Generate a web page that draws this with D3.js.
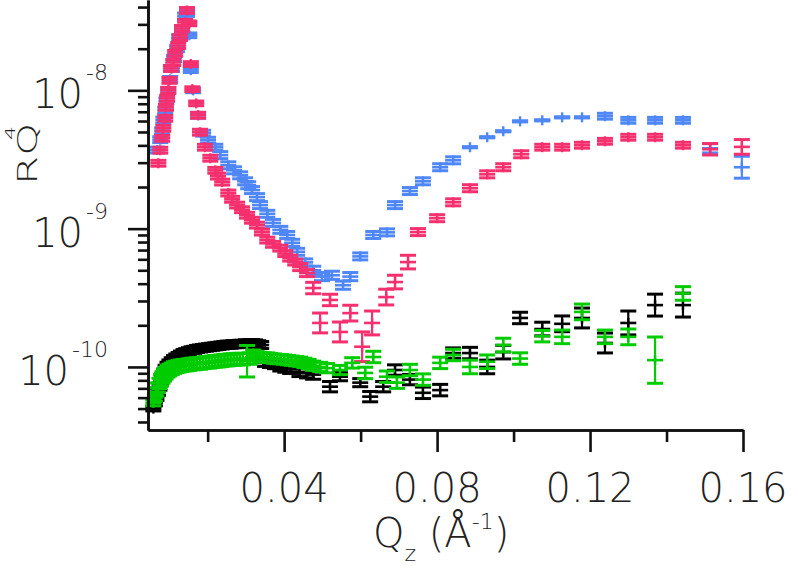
<!DOCTYPE html>
<html><head><meta charset="utf-8">
<script src="https://cdn.jsdelivr.net/npm/d3@7/dist/d3.min.js"></script>
<style>body{margin:0;background:#fff}text{font-family:"DejaVu Sans",sans-serif;font-weight:200;fill:#222}</style>
</head><body>
<svg id="c" width="792" height="566"></svg>
<script>
// ---------------- data: [Qz (1/Å), R·Q^4, relative error] ----------------
const blueData = [
  [0.0068,3.7e-9,0.05],[0.0076,4.4e-9,0.05],[0.0081,5.1e-9,0.05],[0.0084,6.1e-9,0.05],[0.0089,7.2e-9,0.05],[0.0092,8.4e-9,0.05],
  [0.0097,1.0e-8,0.05],[0.0102,1.2e-8,0.05],[0.0107,1.44e-8,0.05],[0.0112,1.7e-8,0.05],[0.0120,2.0e-8,0.05],[0.0125,2.4e-8,0.05],
  [0.0133,2.8e-8,0.05],[0.0141,3.45e-8,0.05],[0.0146,3.6e-8,0.05],[0.0152,2.5e-8,0.04],[0.0156,1.4e-8,0.04],[0.0162,1.0e-8,0.04],
  [0.0175,6.6e-9,0.05],[0.0188,4.9e-9,0.05],[0.0201,4.36e-9,0.05],[0.0220,3.88e-9,0.05],[0.0233,3.4e-9,0.06],[0.0254,2.87e-9,0.06],
  [0.0269,2.64e-9,0.06],[0.0285,2.43e-9,0.06],[0.0298,2.2e-9,0.06],[0.0306,2.06e-9,0.06],[0.0316,1.9e-9,0.06],[0.0329,1.69e-9,0.06],
  [0.0337,1.48e-9,0.06],[0.0356,1.28e-9,0.06],[0.0371,1.10e-9,0.06],[0.0390,9.8e-10,0.06],[0.0408,9.0e-10,0.06],[0.0421,7.9e-10,0.06],
  [0.0434,6.8e-10,0.06],[0.0455,5.7e-10,0.06],[0.0476,5.0e-10,0.07],[0.0499,4.5e-10,0.07],[0.0525,4.6e-10,0.07],[0.0554,3.9e-10,0.07],
  [0.0573,4.5e-10,0.07],[0.0599,6.3e-10,0.06],[0.0633,9.0e-10,0.06],[0.0669,9.4e-10,0.06],[0.0690,1.48e-9,0.06],[0.0729,1.87e-9,0.06],
  [0.0763,2.2e-9,0.06],[0.0808,2.78e-9,0.06],[0.0842,3.12e-9,0.06],[0.0886,3.88e-9,0.01],[0.0931,4.58e-9,0.01],[0.0973,5.06e-9,0.01],
  [0.1017,5.97e-9,0.01],[0.1075,6.07e-9,0.01],[0.1127,6.38e-9,0.01],[0.1179,6.38e-9,0.01],[0.1239,6.5e-9,0.05],[0.1300,6.07e-9,0.05],
  [0.1370,6.07e-9,0.05],[0.1443,6.07e-9,0.05],[0.1514,3.81e-9,0.08],[0.1597,2.78e-9,0.20]];

const pinkData = [
  [0.0071,2.97e-9,0.05],[0.0076,3.69e-9,0.05],[0.0081,4.5e-9,0.05],[0.0084,5.32e-9,0.05],[0.0089,6.28e-9,0.05],[0.0091,7.53e-9,0.05],
  [0.0094,8.75e-9,0.05],[0.0097,1.0e-8,0.05],[0.0100,1.18e-8,0.05],[0.0104,1.44e-8,0.05],[0.0110,1.59e-8,0.05],[0.0115,1.85e-8,0.05],
  [0.0123,2.11e-8,0.05],[0.0128,2.41e-8,0.05],[0.0133,2.8e-8,0.05],[0.0141,3.1e-8,0.05],[0.0146,3.78e-8,0.05],[0.0152,3.05e-8,0.04],
  [0.0156,1.55e-8,0.04],[0.0160,1.02e-8,0.04],[0.0170,8.05e-9,0.04],[0.0175,6.6e-9,0.05],[0.0180,4.98e-9,0.05],[0.0193,3.88e-9,0.05],
  [0.0207,3.23e-9,0.05],[0.0220,2.64e-9,0.05],[0.0227,2.4e-9,0.05],[0.0238,2.17e-9,0.05],[0.0254,1.81e-9,0.05],[0.0264,1.63e-9,0.05],
  [0.0277,1.48e-9,0.05],[0.0290,1.37e-9,0.05],[0.0303,1.25e-9,0.05],[0.0316,1.15e-9,0.05],[0.0329,1.06e-9,0.05],[0.0342,9.44e-10,0.05],
  [0.0356,8.26e-10,0.05],[0.0371,7.7e-10,0.05],[0.0390,7.23e-10,0.05],[0.0403,6.6e-10,0.05],[0.0416,6.12e-10,0.05],[0.0429,5.73e-10,0.05],
  [0.0442,5.27e-10,0.06],[0.0460,4.77e-10,0.06],[0.0476,3.72e-10,0.10],[0.0494,2.08e-10,0.18],[0.0520,3.05e-10,0.10],[0.0546,1.79e-10,0.18],
  [0.0573,2.45e-10,0.14],[0.0604,1.4e-10,0.28],[0.0630,2.08e-10,0.22],[0.0667,3.2e-10,0.14],[0.0690,4.11e-10,0.12],[0.0724,5.73e-10,0.12],
  [0.0750,9.44e-10,0.06],[0.0800,1.19e-9,0.06],[0.0842,1.55e-9,0.06],[0.0886,1.96e-9,0.06],[0.0931,2.47e-9,0.06],[0.0973,2.78e-9,0.06],
  [0.1020,3.45e-9,0.06],[0.1075,3.88e-9,0.05],[0.1127,3.88e-9,0.05],[0.1179,4.01e-9,0.05],[0.1239,4.28e-9,0.05],[0.1300,4.58e-9,0.05],
  [0.1370,4.58e-9,0.05],[0.1443,4.01e-9,0.05],[0.1514,3.75e-9,0.10],[0.1597,3.9e-9,0.13]];

const blackData = [
  [0.0058,5.0e-11,0.04],[0.0062,5.5e-11,0.05],[0.0066,6.0e-11,0.05],[0.0070,6.6e-11,0.06],[0.0074,7.2e-11,0.06],[0.0078,7.8e-11,0.06],
  [0.0082,8.5e-11,0.06],[0.0086,9.1e-11,0.06],[0.0090,9.7e-11,0.06],[0.0095,1.02e-10,0.06],[0.0100,1.06e-10,0.06],[0.0106,1.10e-10,0.06],
  [0.0112,1.14e-10,0.06],[0.0118,1.17e-10,0.06],[0.0124,1.20e-10,0.06],[0.0130,1.23e-10,0.06],[0.0137,1.26e-10,0.06],[0.0144,1.28e-10,0.06],
  [0.0151,1.30e-10,0.06],[0.0158,1.32e-10,0.06],[0.0165,1.33e-10,0.06],[0.0172,1.35e-10,0.06],[0.0180,1.36e-10,0.06],[0.0188,1.37e-10,0.06],
  [0.0196,1.38e-10,0.06],[0.0204,1.39e-10,0.06],[0.0212,1.40e-10,0.06],[0.0220,1.41e-10,0.06],[0.0228,1.42e-10,0.06],[0.0236,1.43e-10,0.06],
  [0.0244,1.44e-10,0.06],[0.0252,1.45e-10,0.06],[0.0260,1.45e-10,0.06],[0.0268,1.46e-10,0.06],[0.0276,1.46e-10,0.06],[0.0284,1.47e-10,0.06],
  [0.0292,1.47e-10,0.06],[0.0300,1.48e-10,0.06],[0.0308,1.48e-10,0.06],[0.0316,1.49e-10,0.06],[0.0324,1.48e-10,0.06],[0.0332,1.46e-10,0.06],
  [0.0340,1.44e-10,0.06],[0.0350,1.07e-10,0.06],[0.0363,1.05e-10,0.06],[0.0376,1.03e-10,0.06],[0.0390,1.0e-10,0.07],[0.0403,9.8e-11,0.07],
  [0.0416,9.6e-11,0.07],[0.0440,9.2e-11,0.08],[0.0460,9.0e-11,0.08],[0.0476,8.8e-11,0.08],[0.0520,7.2e-11,0.09],[0.0546,8.5e-11,0.07],
  [0.0599,7.7e-11,0.07],[0.0625,6.1e-11,0.09],[0.0659,7.2e-11,0.09],[0.0690,9.5e-11,0.09],[0.0729,8.1e-11,0.09],[0.0763,6.5e-11,0.10],
  [0.0808,6.8e-11,0.10],[0.0842,1.26e-10,0.09],[0.0886,1.26e-10,0.10],[0.0931,1.0e-10,0.12],[0.0973,1.28e-10,0.12],[0.1017,2.26e-10,0.10],
  [0.1075,1.88e-10,0.12],[0.1127,2.05e-10,0.14],[0.1179,2.26e-10,0.18],[0.1239,1.49e-10,0.18],[0.1300,2.08e-10,0.22],[0.1370,2.8e-10,0.20],
  [0.1443,2.8e-10,0.22]];

const greenData = [
  [0.0058,5.5e-11,0.05],[0.0062,6.0e-11,0.06],[0.0066,6.6e-11,0.07],[0.0070,7.1e-11,0.08],[0.0074,7.6e-11,0.09],[0.0078,8.0e-11,0.10],
  [0.0082,8.4e-11,0.10],[0.0086,8.7e-11,0.10],[0.0090,9.0e-11,0.10],[0.0095,9.3e-11,0.10],[0.0100,9.5e-11,0.10],[0.0106,9.7e-11,0.10],
  [0.0112,9.9e-11,0.10],[0.0118,1.0e-10,0.10],[0.0124,1.01e-10,0.10],[0.0130,1.02e-10,0.10],[0.0137,1.03e-10,0.10],[0.0144,1.03e-10,0.10],
  [0.0151,1.04e-10,0.10],[0.0158,1.05e-10,0.10],[0.0165,1.05e-10,0.10],[0.0172,1.06e-10,0.10],[0.0180,1.06e-10,0.10],[0.0188,1.07e-10,0.10],
  [0.0196,1.08e-10,0.10],[0.0204,1.08e-10,0.10],[0.0212,1.09e-10,0.10],[0.0220,1.10e-10,0.10],[0.0228,1.10e-10,0.10],[0.0236,1.11e-10,0.10],
  [0.0244,1.12e-10,0.10],[0.0252,1.12e-10,0.10],[0.0260,1.13e-10,0.10],[0.0268,1.13e-10,0.10],[0.0276,1.14e-10,0.10],[0.0284,1.14e-10,0.10],
  [0.0292,1.14e-10,0.10],[0.0303,1.10e-10,0.30],[0.0310,1.15e-10,0.10],[0.0319,1.25e-10,0.06],[0.0328,1.20e-10,0.08],[0.0337,1.18e-10,0.08],
  [0.0346,1.17e-10,0.08],[0.0355,1.17e-10,0.08],[0.0364,1.16e-10,0.08],[0.0373,1.15e-10,0.08],[0.0382,1.14e-10,0.08],[0.0391,1.14e-10,0.08],
  [0.0400,1.13e-10,0.08],[0.0410,1.12e-10,0.08],[0.0420,1.11e-10,0.08],[0.0431,1.10e-10,0.08],[0.0442,1.09e-10,0.08],[0.0453,1.07e-10,0.08],
  [0.0464,1.05e-10,0.08],[0.0476,1.02e-10,0.08],[0.0494,1.0e-10,0.08],[0.0512,9.8e-11,0.08],[0.0546,9.5e-11,0.08],[0.0578,1.07e-10,0.09],
  [0.0612,9.05e-11,0.10],[0.0633,1.18e-10,0.10],[0.0669,8.5e-11,0.10],[0.0695,7.7e-11,0.10],[0.0729,9.5e-11,0.10],[0.0763,8.1e-11,0.10],
  [0.0808,1.07e-10,0.10],[0.0842,1.22e-10,0.10],[0.0886,1.0e-10,0.12],[0.0931,1.09e-10,0.12],[0.0973,1.44e-10,0.12],[0.1017,1.15e-10,0.10],
  [0.1075,1.67e-10,0.10],[0.1127,1.65e-10,0.12],[0.1179,2.5e-10,0.14],[0.1239,1.65e-10,0.12],[0.1300,1.65e-10,0.14],[0.1370,1.12e-10,0.47],
  [0.1443,3.4e-10,0.12]];

const xTickMajor = [0.04, 0.08, 0.12, 0.16];
const xTickLabels = ["0.04", "0.08", "0.12", "0.16"];
const xTickMinor = [0.02, 0.06, 0.10, 0.14];
const yTickMajor = [1e-8, 1e-9, 1e-10];
const yTickExp = ["-8", "-9", "-10"];

// ---------------- chart ----------------
const svg = d3.select("#c");
const x = d3.scaleLinear().domain([0.0044, 0.16]).range([148, 743]);
const y = d3.scaleLog().domain([3.5e-11, 4.5e-8]).range([430, 0]);

const yMinor = [];
[-11, -10, -9, -8].forEach(e => { for (let m = 2; m <= 9; m++) { const v = m * Math.pow(10, e); if (v >= y.domain()[0] && v <= y.domain()[1]) yMinor.push(v); } });

function series(data, color) {
  const g = svg.append("g").attr("stroke", color).attr("stroke-width", 3).attr("fill", "none").attr("stroke-linecap", "butt");
  const p = g.selectAll("g").data(data).join("g");
  const hi = d => y(d[1] * (1 + d[2])), lo = d => y(d[1] / (1 + d[2]));
  p.append("line").attr("x1", d => x(d[0])).attr("x2", d => x(d[0]))
    .attr("y1", hi).attr("y2", lo).attr("stroke-width", 2.2);
  p.append("line").attr("x1", d => x(d[0]) - 8).attr("x2", d => x(d[0]) + 8).attr("y1", hi).attr("y2", hi);
  p.append("line").attr("x1", d => x(d[0]) - 8).attr("x2", d => x(d[0]) + 8).attr("y1", lo).attr("y2", lo);
  p.append("line").attr("x1", d => x(d[0]) - 8).attr("x2", d => x(d[0]) + 8)
    .attr("y1", d => y(d[1])).attr("y2", d => y(d[1])).attr("stroke-width", 2.6);
  p.append("line").attr("x1", d => x(d[0])).attr("x2", d => x(d[0]))
    .attr("y1", d => y(d[1]) - 5).attr("y2", d => y(d[1]) + 5).attr("stroke-width", 2.4);
}
series(blueData, "#4f87f7");
series(pinkData, "#f5306f");
series(blackData, "#000000");
series(greenData, "#00cc00");

// axes
function styleAxis(g) {
  g.selectAll("path,line").attr("stroke", "#111").attr("stroke-width", 2.6);
  g.selectAll("text").remove();
}
svg.append("g").attr("transform", "translate(148,0)")
  .call(d3.axisLeft(y).tickValues(yMinor).tickSize(10).tickSizeOuter(0)).call(styleAxis);
svg.append("g").attr("transform", "translate(148,0)")
  .call(d3.axisLeft(y).tickValues(yTickMajor).tickSize(20).tickSizeOuter(0)).call(styleAxis);
svg.append("g").attr("transform", "translate(0,430)")
  .call(d3.axisBottom(x).tickValues(xTickMinor).tickSize(12).tickSizeOuter(0)).call(styleAxis);
svg.append("g").attr("transform", "translate(0,430)")
  .call(d3.axisBottom(x).tickValues(xTickMajor).tickSize(22).tickSizeOuter(0)).call(styleAxis);

// tick labels
svg.append("g").selectAll("text").data(xTickMajor).join("text")
  .attr("x", d => x(d)).attr("y", 502).attr("text-anchor", "middle").attr("font-size", 40)
  .text((d, i) => xTickLabels[i]);

const yl = svg.append("g").selectAll("text").data(yTickMajor).join("text")
  .attr("x", 108).attr("y", d => y(d) + 18).attr("text-anchor", "end");
yl.append("tspan").attr("font-size", 40).text("10");
yl.append("tspan").attr("font-size", 22).attr("dx", 3).attr("dy", -28).text((d, i) => yTickExp[i]);

// axis titles
const xt = svg.append("text").attr("x", 373).attr("y", 547);
xt.append("tspan").attr("font-size", 40).text("Q");
xt.append("tspan").attr("font-size", 22).attr("dy", 14).text("z");
xt.append("tspan").attr("font-size", 40).attr("dy", -14).text(" (Å");
xt.append("tspan").attr("font-size", 22).attr("dy", -18).text("-1");
xt.append("tspan").attr("font-size", 40).attr("dy", 18).text(")");

svg.append("text").attr("transform", "translate(37,185) rotate(-90) scale(1.05,0.66)").attr("font-size", 40).text("RQ");
svg.append("text").attr("transform", "translate(15,140) rotate(-90) scale(1,0.66)").attr("font-size", 22).text("4");
</script>
</body></html>
